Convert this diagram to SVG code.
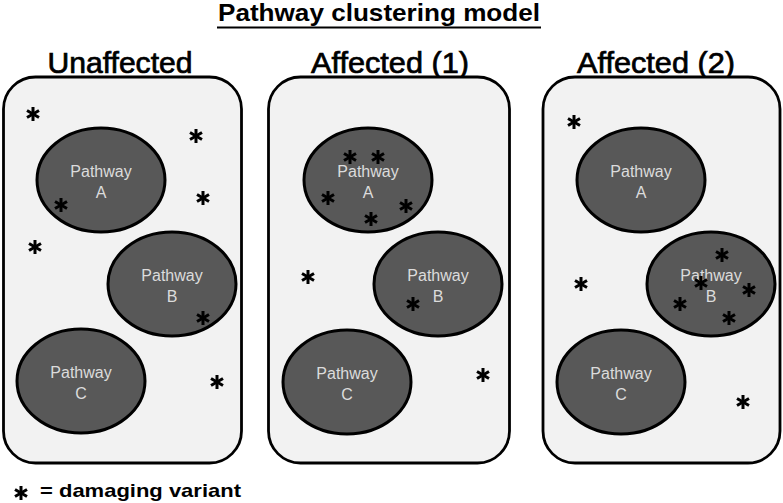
<svg xmlns="http://www.w3.org/2000/svg" xmlns:xlink="http://www.w3.org/1999/xlink" width="783" height="503" viewBox="0 0 783 503">
<style>
.panel{fill:#f2f2f2;stroke:#000;stroke-width:2.8}
.pw{fill:#585858;stroke:#000;stroke-width:3}
.pt{font-family:"Liberation Sans",Arial,sans-serif;font-size:16px;fill:#dcdcdc;text-anchor:middle}
.hd{font-family:"Liberation Sans",Arial,sans-serif;font-size:29px;fill:#000;stroke:#000;stroke-width:0.7;text-anchor:middle}
.tt{font-family:"Liberation Sans",Arial,sans-serif;font-size:24px;font-weight:bold;fill:#000;text-anchor:middle}
.lg{font-family:"Liberation Sans",Arial,sans-serif;font-size:19px;font-weight:bold;fill:#000}
</style>
<defs>
<g id="ast" stroke="#000" stroke-width="3" stroke-linecap="butt">
<line x1="0" y1="-7" x2="0" y2="7"/>
<line x1="-6" y1="-3.5" x2="6" y2="3.5"/>
<line x1="-6" y1="3.5" x2="6" y2="-3.5"/>
</g>
</defs>
<rect width="783" height="503" fill="#fff"/>
<g id="title">
<text class="tt" x="379" y="21" textLength="322" lengthAdjust="spacingAndGlyphs">Pathway clustering model</text>
<line x1="217" y1="27.5" x2="541" y2="27.5" stroke="#000" stroke-width="2"/>
</g>
<g id="headings">
<text class="hd" x="120" y="73" textLength="145" lengthAdjust="spacingAndGlyphs">Unaffected</text>
<text class="hd" x="390" y="73" textLength="158" lengthAdjust="spacingAndGlyphs">Affected (1)</text>
<text class="hd" x="656" y="73" textLength="158" lengthAdjust="spacingAndGlyphs">Affected (2)</text>
</g>
<g id="panel-unaffected">
<rect class="panel" x="3.5" y="77" width="238" height="386" rx="32"/>
<g id="u-pathway-a"><ellipse class="pw" cx="101" cy="180" rx="64" ry="52"/><text class="pt" x="101" y="177">Pathway</text><text class="pt" x="101" y="198">A</text></g>
<g id="u-pathway-b"><ellipse class="pw" cx="172" cy="284" rx="64" ry="52"/><text class="pt" x="172" y="281">Pathway</text><text class="pt" x="172" y="302">B</text></g>
<g id="u-pathway-c"><ellipse class="pw" cx="81" cy="381" rx="64" ry="52"/><text class="pt" x="81" y="378">Pathway</text><text class="pt" x="81" y="399">C</text></g>
<g id="u-variants">
<use xlink:href="#ast" x="33" y="114"/>
<use xlink:href="#ast" x="196" y="136"/>
<use xlink:href="#ast" x="61" y="205"/>
<use xlink:href="#ast" x="203" y="198"/>
<use xlink:href="#ast" x="35" y="247"/>
<use xlink:href="#ast" x="203" y="318"/>
<use xlink:href="#ast" x="217" y="382"/>
</g>
</g>
<g id="panel-affected-1">
<rect class="panel" x="268.5" y="77" width="241" height="386" rx="32"/>
<g id="a1-pathway-a"><ellipse class="pw" cx="368" cy="180" rx="64" ry="52"/><text class="pt" x="368" y="177">Pathway</text><text class="pt" x="368" y="198">A</text></g>
<g id="a1-pathway-b"><ellipse class="pw" cx="438" cy="284" rx="64" ry="52"/><text class="pt" x="438" y="281">Pathway</text><text class="pt" x="438" y="302">B</text></g>
<g id="a1-pathway-c"><ellipse class="pw" cx="347" cy="382" rx="64" ry="52"/><text class="pt" x="347" y="379">Pathway</text><text class="pt" x="347" y="400">C</text></g>
<g id="a1-variants">
<use xlink:href="#ast" x="350" y="157"/>
<use xlink:href="#ast" x="378" y="157"/>
<use xlink:href="#ast" x="328" y="198"/>
<use xlink:href="#ast" x="406" y="206"/>
<use xlink:href="#ast" x="371" y="219"/>
<use xlink:href="#ast" x="308" y="277"/>
<use xlink:href="#ast" x="413" y="304"/>
<use xlink:href="#ast" x="483" y="375"/>
</g>
</g>
<g id="panel-affected-2">
<rect class="panel" x="543" y="77" width="237" height="386" rx="32"/>
<g id="a2-pathway-a"><ellipse class="pw" cx="641" cy="180" rx="64" ry="52"/><text class="pt" x="641" y="177">Pathway</text><text class="pt" x="641" y="198">A</text></g>
<g id="a2-pathway-b"><ellipse class="pw" cx="711" cy="284" rx="64" ry="52"/><text class="pt" x="711" y="281">Pathway</text><text class="pt" x="711" y="302">B</text></g>
<g id="a2-pathway-c"><ellipse class="pw" cx="621" cy="382" rx="64" ry="52"/><text class="pt" x="621" y="379">Pathway</text><text class="pt" x="621" y="400">C</text></g>
<g id="a2-variants">
<use xlink:href="#ast" x="574" y="122"/>
<use xlink:href="#ast" x="581" y="284"/>
<use xlink:href="#ast" x="722" y="255"/>
<use xlink:href="#ast" x="701" y="283"/>
<use xlink:href="#ast" x="749" y="290"/>
<use xlink:href="#ast" x="680" y="304"/>
<use xlink:href="#ast" x="729" y="318"/>
<use xlink:href="#ast" x="743" y="402"/>
</g>
</g>
<g id="legend">
<use xlink:href="#ast" x="21" y="493"/>
<text class="lg" x="40" y="497" textLength="201" lengthAdjust="spacingAndGlyphs">= damaging variant</text>
</g>
</svg>
